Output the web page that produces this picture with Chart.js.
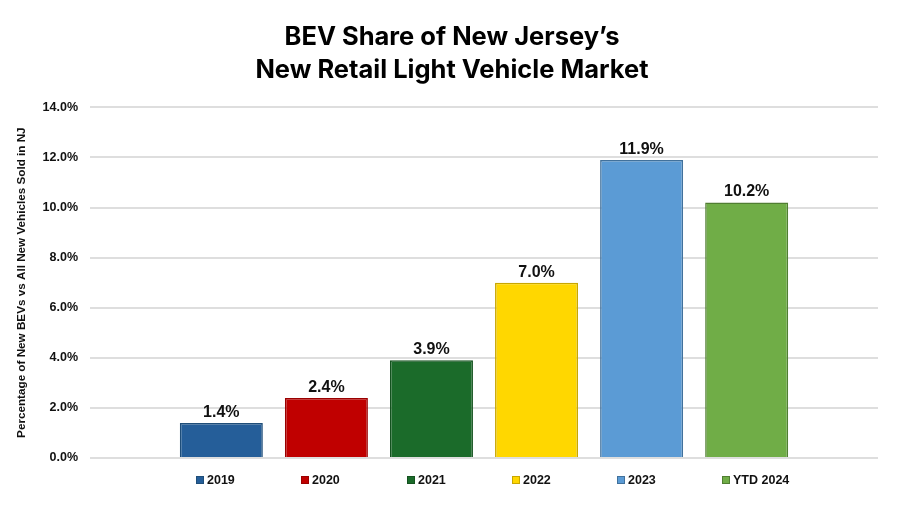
<!DOCTYPE html>
<html>
<head>
<meta charset="utf-8">
<script src="https://cdn.jsdelivr.net/npm/chart.js@4/dist/chart.umd.min.js"></script>
<style>
  html, body { margin: 0; padding: 0; background: #fff; }
  #wrap { width: 900px; height: 506px; }
</style>
</head>
<body>
<div id="wrap"><canvas id="bevChart" width="900" height="506"></canvas></div>
<script>
'use strict';

// ── Data ─────────────────────────────────────────────────────
const years   = ['2019', '2020', '2021', '2022', '2023', 'YTD 2024'];
const shares  = [1.4, 2.4, 3.9, 7.0, 11.9, 10.2];
const fills   = ['#255E99', '#C00000', '#1B6B2A', '#FFD700', '#5B9BD5', '#70AD47'];
const strokes = ['#1F4E79', '#9A0000', '#14521F', '#C8A600', '#41719C', '#507E32'];
const yTicks  = [0, 2, 4, 6, 8, 10, 12, 14];

const labelFont  = 'bold 16px "Liberation Sans", Arial, sans-serif';
const legendFont = 'bold 12.5px "Liberation Sans", Arial, sans-serif';

// ── Value labels above each bar ──────────────────────────────
const valueLabels = {
  id: 'valueLabels',
  afterDatasetsDraw(chart) {
    const ctx = chart.ctx;
    ctx.save();
    ctx.font = labelFont;
    ctx.fillStyle = '#111';
    ctx.textAlign = 'center';
    ctx.textBaseline = 'alphabetic';
    chart.data.datasets.forEach((ds, i) => {
      const bar = chart.getDatasetMeta(i).data[0];
      if (!bar) return;
      ctx.fillText(ds.data[0].toFixed(1) + '%', bar.x, bar.y - 6);
    });
    ctx.restore();
  }
};

// ── Legend row, one entry under each bar ─────────────────────
const barLegend = {
  id: 'barLegend',
  afterDraw(chart) {
    const ctx = chart.ctx;
    const y = chart.chartArea.bottom + 22;
    ctx.save();
    ctx.font = legendFont;
    ctx.textBaseline = 'middle';
    ctx.textAlign = 'left';
    chart.data.datasets.forEach((ds, i) => {
      const bar = chart.getDatasetMeta(i).data[0];
      if (!bar) return;
      const box = 8, gap = 3;
      const x0 = Math.round(bar.x - bar.width * 0.3);
      ctx.fillStyle = ds.backgroundColor;
      ctx.fillRect(x0, y - box / 2, box, box);
      ctx.strokeStyle = ds.borderColor;
      ctx.lineWidth = 1;
      ctx.strokeRect(x0 + 0.5, y - box / 2 + 0.5, box - 1, box - 1);
      ctx.fillStyle = '#111';
      ctx.fillText(ds.label, x0 + box + gap, y + 0.5);
    });
    ctx.restore();
  }
};

new Chart(document.getElementById('bevChart'), {
  type: 'bar',
  data: {
    labels: ['BEV share'],
    datasets: years.map((yr, i) => ({
      label: yr,
      data: [shares[i]],
      backgroundColor: fills[i],
      borderColor: strokes[i],
      borderWidth: 1.5,
      barPercentage: 0.79,
      categoryPercentage: 0.8
    }))
  },
  options: {
    responsive: false,
    animation: false,
    layout: { padding: { left: 26, right: 22, top: 0, bottom: 48 } },
    scales: {
      x: { display: false },
      y: {
        min: 0,
        max: 14,
        afterBuildTicks: (scale) => { scale.ticks = yTicks.map(v => ({ value: v })); },
        afterFit: (scale) => { scale.width = 64; },
        ticks: {
          padding: 12,
          color: '#111',
          font: { family: '"Liberation Sans", Arial, sans-serif', size: 12.5, weight: 'bold' },
          callback: v => v.toFixed(1) + '%'
        },
        grid: { color: '#DEDEDE', lineWidth: 2, drawTicks: false },
        border: { display: false },
        title: {
          display: true,
          text: 'Percentage of New BEVs vs All New Vehicles Sold in NJ',
          color: '#111',
          font: { family: '"Liberation Sans", Arial, sans-serif', size: 11.7, weight: 'bold' },
          padding: { top: -11, bottom: 0 }
        }
      }
    },
    plugins: {
      legend: { display: false },
      tooltip: { enabled: false },
      title: {
        display: true,
        text: ['BEV Share of New Jersey\u2019s', 'New Retail Light Vehicle Market'],
        color: '#000',
        font: { family: 'Inter, "Open Sans", sans-serif', size: 25.5, weight: 'bold', lineHeight: 1.3 },
        padding: { top: 21, bottom: 20 }
      }
    }
  },
  plugins: [valueLabels, barLegend]
});
</script>
</body>
</html>
